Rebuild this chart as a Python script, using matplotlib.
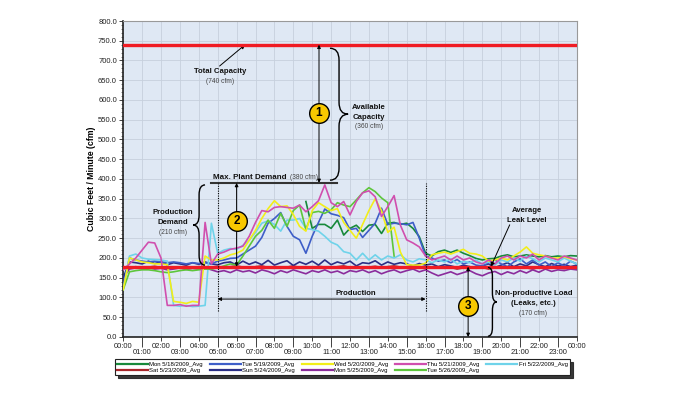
import numpy as np
import matplotlib.pyplot as plt
from matplotlib.path import Path
from matplotlib.patches import PathPatch

nan = np.nan

# ------------------------------------------------------------
# Data (cfm, every 20 minutes from 00:00 to 24:00)
# ------------------------------------------------------------

hours = np.arange(73) / 3.0

mon_0518 = [nan] * 12 + [nan] * 12 + [
    nan, nan, nan, nan, nan, 343, 275, 285, 285, 275, 296, 258,
    275, 283, 267, 283, 285, 262, 288, 290, 285, 288, 275, 254,
    212, 205, 216, 220, 214, 220, 212, 206, 199, 195, 198, 199,
    205, 208, 203, 205, 208, 205, 203, 206, 203, 205, 203, 206,
    205]

tue_0519 = [
    130, 200, 195, 192, 190, 192, 190, 188, 190, 188, 185, 188,
    186, 188, 185, 192, 195, 199, 200, 210, 220, 230, 252, 288,
    300, 315, 280, 255, 246, 212, 255, 290, 324, 312, 308, 302,
    272, 275, 252, 270, 288, 326, 285, 288, 287, 284, 290, 250,
    205, 200, 192, 195, 188, 196, 185, 190, 182, 180, 188, 195,
    185, 178, 190, 198, 185, 195, 182, 190, 178, 188, 180, 192,
    185]

wed_0520 = [
    120, 200, 195, 190, 188, 185, 185, 183, 90, 88, 85, 90,
    88, 205, 195, 195, 200, 208, 212, 220, 245, 270, 300, 325,
    345, 330, 332, 310, 280, 268, 320, 340, 330, 320, 325, 290,
    270, 250, 285, 320, 350, 320, 265, 278, 215, 183, 182, 182,
    187, 208, 212, 215, 210, 216, 222, 212, 210, 205, 192, 195,
    200, 195, 205, 215, 228, 212, 208, 205, 200, 200, 203, 198,
    195]

thu_0521 = [
    170, 185, 200, 220, 240, 238, 200, 80, 80, 82, 78, 80,
    80, 290, 185, 210, 215, 222, 225, 230, 255, 290, 320, 317,
    328, 330, 328, 326, 334, 317, 330, 345, 385, 340, 330, 343,
    309, 343, 365, 370, 355, 305, 330, 358, 283, 246, 238, 228,
    205, 195, 200, 205, 195, 205, 195, 200, 190, 185, 195, 185,
    200, 205, 195, 205, 200, 210, 195, 205, 200, 195, 205, 200,
    195]

fri_0522 = [
    120, 205, 210, 200, 197, 196, 195, 192, 80, 78, 80, 77,
    78, 80, 288, 212, 220, 224, 222, 232, 245, 265, 288, 294,
    285, 268, 296, 296, 300, 275, 272, 268, 255, 240, 233, 216,
    212, 195, 212, 195, 208, 195, 205, 200, 208, 195, 190, 198,
    195, 188, 195, 190, 198, 185, 192, 188, 195, 185, 190, 182,
    195, 190, 200, 192, 205, 198, 190, 200, 195, 190, 200, 192,
    185]

sat_0523 = [
    150, 176, 178, 175, 177, 179, 176, 178, 175, 177, 179, 176,
    178, 175, 177, 179, 176, 178, 180, 177, 175, 178, 180, 176,
    178, 175, 177, 180, 176, 178, 175, 179, 177, 175, 178, 180,
    176, 178, 175, 177, 179, 176, 178, 180, 177, 175, 178, 176,
    178, 175, 177, 174, 176, 172, 175, 178, 174, 176, 172, 175,
    177, 174, 176, 178, 175, 172, 176, 174, 177, 175, 173, 176,
    175]

sun_0524 = [
    150, 190, 188, 185, 192, 186, 190, 183, 188, 185, 182, 188,
    184, 190, 185, 183, 188, 190, 182, 192, 184, 190, 183, 194,
    182, 188, 193, 181, 190, 184, 192, 182, 195, 183, 190, 185,
    192, 180, 188, 186, 193, 182, 190, 184, 188, 185, 180, 186,
    182, 185, 178, 183, 180, 176, 182, 178, 175, 180, 185, 176,
    182, 188, 178, 185, 180, 190, 183, 178, 186, 180, 184, 178,
    182]

mon_0525 = [
    150, 172, 175, 173, 176, 172, 174, 170, 172, 175, 171, 174,
    172, 175, 170, 165, 168, 163, 170, 165, 168, 162, 170, 166,
    160, 168, 163, 170, 165, 160, 168, 164, 170, 163, 167, 160,
    168, 165, 170, 163, 168, 160, 166, 170, 163, 168, 172, 165,
    170, 162, 155, 160, 165, 158, 163, 168, 160, 155, 162, 166,
    158, 165, 160, 168, 162, 170, 164, 172, 166, 170, 168, 172,
    170]

tue_0526 = [
    120, 165, 168, 170, 170, 168, 165, 163, 165, 168, 170, 168,
    170, 172, 172, 175, 180, 185, 182, 205, 230, 255, 270, 296,
    275, 313, 280, 320, 334, 272, 315, 318, 313, 322, 340, 334,
    330, 347, 365, 378, 368, 352, 340, 205] + [nan] * 29

series_labels = [
    "Mon 5/18/2009_Avg", "Tue 5/19/2009_Avg", "Wed 5/20/2009_Avg",
    "Thu 5/21/2009_Avg", "Fri 5/22/2009_Avg", "Sat 5/23/2009_Avg",
    "Sun 5/24/2009_Avg", "Mon 5/25/2009_Avg", "Tue 5/26/2009_Avg",
]
series_values = [mon_0518, tue_0519, wed_0520, thu_0521, fri_0522,
                 sat_0523, sun_0524, mon_0525, tue_0526]
series_colors = ["#17893a", "#3e5ec8", "#f2ee1a", "#d04fae", "#6fd3ea",
                 "#a8262a", "#2b2f86", "#8b2c9c", "#5dc63c"]
draw_order = [5, 7, 6, 0, 1, 4, 8, 2, 3]

total_capacity = 740
leak_level = 178
max_demand = 390

# ------------------------------------------------------------
# Plot
# ------------------------------------------------------------

plt.rcParams["font.family"] = ["Liberation Sans Narrow", "Liberation Sans", "DejaVu Sans"]

fig = plt.figure(figsize=(7, 3.94), dpi=100)
fig.patch.set_facecolor("white")
ax = fig.add_axes([0.176, 0.1447, 0.648, 0.802])
ax.set_facecolor("#dfe8f4")

lines = {}
for i in draw_order:
    (ln,) = ax.plot(hours, series_values[i], color=series_colors[i], lw=1.2,
                    label=series_labels[i], zorder=3)
    lines[i] = ln

ax.axhline(total_capacity, color="#f01c24", lw=2.4, zorder=5)
ax.axhline(leak_level, color="#f01c24", lw=2.4, zorder=5)

ax.set_xlim(0, 24)
ax.set_ylim(0, 800)
ax.set_yticks(np.arange(0, 801, 50))
ax.set_yticklabels([f"{v:.1f}" for v in np.arange(0, 801, 50)])
ax.set_yticks(np.arange(0, 801, 10), minor=True)

# even hours on the first row, odd hours on a second row below
ax.set_xticks(range(0, 25, 2))
ax.set_xticklabels([f"{h % 24:02d}:00" for h in range(0, 25, 2)])
ax.set_xticks(range(1, 24, 2), minor=True)
ax.set_xticklabels([f"{h:02d}:00" for h in range(1, 24, 2)], minor=True)

ax.tick_params(axis="both", which="both", labelsize=5.5, colors="#222", width=0.6)
ax.tick_params(axis="y", which="major", length=3, pad=1.5)
ax.tick_params(axis="y", which="minor", length=1.5, width=0.4)
ax.tick_params(axis="x", which="major", length=3, pad=1.5)
ax.tick_params(axis="x", which="minor", length=7, pad=1.5)

ax.grid(True, which="major", color="#c6d0dd", lw=0.6, zorder=0)
ax.xaxis.grid(True, which="minor", color="#c6d0dd", lw=0.6)
ax.set_axisbelow(True)
for side in ["left", "bottom"]:
    ax.spines[side].set_linewidth(1.2)
    ax.spines[side].set_color("#222")
for side in ["top", "right"]:
    ax.spines[side].set_linewidth(0.8)
    ax.spines[side].set_color("#999")

ax.set_ylabel("Cubic Feet / Minute (cfm)", fontsize=6.3, fontweight="bold", labelpad=1.5)

bold = dict(fontsize=5.6, fontweight="bold", color="#111", ha="center", va="center", zorder=6)
small = dict(fontsize=4.8, color="#444", ha="center", va="center", zorder=6)


def double_arrow(x0, y0, x1, y1):
    ax.annotate("", xy=(x1, y1), xytext=(x0, y0),
                arrowprops=dict(arrowstyle="<|-|>", color="black", lw=0.7,
                                mutation_scale=5, shrinkA=0, shrinkB=0), zorder=6)


def brace(x_base, x_tip, y0, y1, d):
    xm = (x_base + x_tip) / 2
    ym = (y0 + y1) / 2
    verts = [(x_base, y1), (xm, y1), (xm, y1 - d),
             (xm, ym + d), (xm, ym), (x_tip, ym),
             (xm, ym), (xm, ym - d),
             (xm, y0 + d), (xm, y0), (x_base, y0)]
    codes = [Path.MOVETO, Path.CURVE3, Path.CURVE3, Path.LINETO, Path.CURVE3, Path.CURVE3,
             Path.CURVE3, Path.CURVE3, Path.LINETO, Path.CURVE3, Path.CURVE3]
    ax.add_patch(PathPatch(Path(verts, codes), fc="none", ec="black", lw=1.0, zorder=6))


def badge(x, y, n):
    ax.scatter([x], [y], s=200, color="#f8c800", edgecolor="black", lw=1.0, zorder=7)
    ax.text(x, y, str(n), fontsize=8.5, fontweight="bold", ha="center", va="center", zorder=8)


# Total capacity
ax.text(5.13, 672, "Total Capacity", **bold)
ax.text(5.13, 648, "(740 cfm)", **small)
ax.annotate("", xy=(6.45, total_capacity), xytext=(5.1, 686),
            arrowprops=dict(arrowstyle="-|>", color="black", lw=0.7, mutation_scale=6,
                            shrinkA=0, shrinkB=0))

# Available capacity
double_arrow(10.36, max_demand, 10.36, total_capacity)
badge(10.36, 567, 1)
brace(10.94, 11.9, 397, 731, 30)
ax.text(13.0, 580, "Available", **bold)
ax.text(13.0, 555, "Capacity", **bold)
ax.text(13.0, 532, "(360 cfm)", **small)

# Max plant demand
ax.plot([4.65, 11.3], [max_demand, max_demand], color="#333", lw=1.5, zorder=6)
mpd = ax.text(4.76, 404, "Max. Plant Demand", fontsize=5.8, fontweight="bold", color="#111",
              ha="left", va="center", zorder=6)
ax.annotate("(380 cfm)", xy=(1, 0.5), xycoords=mpd, xytext=(2, 0), textcoords="offset points",
            fontsize=4.8, color="#444", ha="left", va="center", zorder=6)

# Production window
for xh in [5, 16]:
    ax.plot([xh, xh], [66, max_demand], color="black", lw=0.8, ls=(0, (1, 1.2)), zorder=6)
double_arrow(5, 96, 16, 96)
ax.text(12.3, 110, "Production", **bold)

# Production demand
double_arrow(6.0, leak_level, 6.0, max_demand)
badge(6.0, 294, 2)
brace(4.33, 3.7, 182, 385, 25)
ax.text(2.62, 314, "Production", **bold)
ax.text(2.62, 289, "Demand", **bold)
ax.text(2.62, 265, "(210 cfm)", **small)

# Non-productive load
double_arrow(18.25, 0, 18.25, leak_level)
badge(18.25, 78, 3)
brace(19.3, 19.77, 2, 176, 22)
ax.text(21.7, 110, "Non-productive Load", **bold)
ax.text(21.7, 84, "(Leaks, etc.)", **bold)
ax.text(21.7, 60, "(170 cfm)", **small)

# Average leak level
ax.text(21.35, 321, "Average", **bold)
ax.text(21.35, 296, "Leak Level", **bold)
ax.annotate("", xy=(19.45, leak_level), xytext=(20.45, 284),
            arrowprops=dict(arrowstyle="-|>", color="black", lw=0.7, mutation_scale=6,
                            shrinkA=0, shrinkB=0))

# legend fills row by row in the reference; matplotlib fills column by column
legend_order = [0, 5, 1, 6, 2, 7, 3, 8, 4]
handles = [lines[i] for i in legend_order]
labels = [series_labels[i] for i in legend_order]
leg = fig.legend(handles, labels, loc="upper left", bbox_to_anchor=(0.164, 0.088),
                 ncol=5, fontsize=4.3, frameon=True, fancybox=False,
                 shadow={"color": "#222", "alpha": 0.9},
                 handlelength=5.2, handletextpad=0.25, columnspacing=1.1,
                 labelspacing=0.2, borderpad=0.35, borderaxespad=0)
leg.get_frame().set_edgecolor("#222")
leg.get_frame().set_linewidth(0.8)
for ln in leg.get_lines():
    ln.set_linewidth(1.6)

fig.savefig("out.png", dpi=100)
